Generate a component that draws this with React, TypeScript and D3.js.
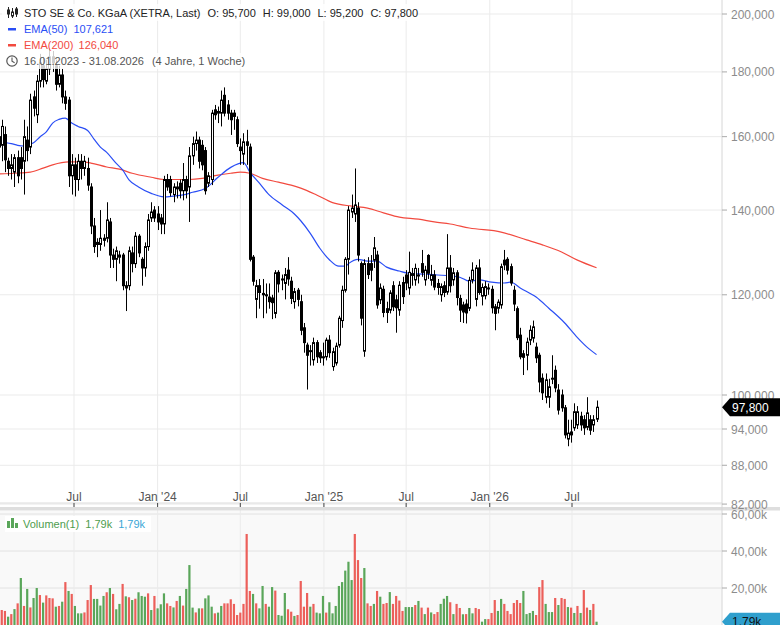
import * as d3 from 'd3';

// weekly candles, 16.01.2023 .. 24.08.2026 (EUR)
const open = [
  160, 157.5, 160.6, 153, 151, 150, 154, 154, 153, 159, 157, 172, 166.5, 177, 182, 177, 181, 185, 182, 176,
  179, 172, 171, 149, 152, 148, 153, 151, 151, 146, 136, 131.5, 131.5, 133, 133, 137, 129, 128, 128.5, 129,
  122, 122, 129.5, 127, 133.5, 128, 126, 131, 138, 140, 139, 138, 136.5, 148, 148, 144, 146, 147, 145, 148,
  146, 154.5, 158, 159, 157.5, 156, 147, 148, 168, 167, 167, 172.5, 169.5, 167, 167, 165, 157, 155, 158.5, 157,
  128.5, 119, 122, 120, 120, 119.5, 119.3, 116, 125, 123.5, 122.5, 125.5, 123, 118.5, 121, 118.5, 113, 109.5, 108.4, 106.6,
  110, 108, 107.2, 107.2, 110.5, 105.3, 106, 109.5, 114.5, 121, 128, 139.5, 139, 140.5, 127, 108.3, 127, 127, 127.8, 129,
  118.9, 121.2, 117, 116.7, 122, 118.9, 116.7, 122.7, 124.4, 121.5, 124.3, 123.3, 124.4, 127, 123.3, 128.9, 123.2, 124.4, 122.5, 120,
  122, 120.6, 126, 123.3, 124.9, 119.2, 117.8, 118, 117.1, 123.3, 119, 126, 119.7, 119.8, 121.5, 121.2, 117.4, 117.1, 117.8, 127.8,
  128, 126.3, 121, 117, 111.5, 107.8, 107.5, 110.5, 110.9, 109.1, 107.5, 103.1, 99.6, 99.6, 103, 104.6, 100.9, 100, 97.7, 92.3,
  93.5, 94.2, 94.7, 96.2, 95.6, 94.3, 95.6, 94.7, 95.7,
];
const high = [
  164, 165, 163, 154, 155, 155, 156, 157, 165, 163, 173, 174, 179, 186, 185, 184, 188, 187, 184, 182,
  181, 174, 172, 155, 154, 155, 155, 154.5, 154, 147, 138, 133, 140, 134, 142, 138, 130.5, 131, 130, 129.5,
  123, 131, 131, 134.5, 134, 128.5, 132, 139, 142, 141, 141, 139, 149, 149.5, 149, 147, 147.5, 148, 152.5, 149,
  157, 160, 161.5, 160, 159, 157, 150, 168, 169.5, 169, 174, 175, 171, 168, 168, 166, 159.5, 161, 162, 158,
  129, 123.3, 123.5, 123.5, 122.5, 122.5, 120, 125.5, 125.5, 124.5, 126, 128.5, 124, 121.5, 121.5, 120, 114, 110, 109.5, 111,
  110.5, 108.5, 110, 111, 111.5, 109, 110, 115.5, 122, 128.5, 141, 144, 151, 142, 127.5, 128, 128.5, 129, 133.3, 130,
  122.5, 122, 118.5, 121, 123, 120, 123, 124, 125.5, 129.8, 126, 127, 126, 130.2, 126.5, 129.2, 126.7, 125.5, 123.5, 122.5,
  123, 134, 129, 126, 125.5, 120, 118.5, 119, 124, 127.3, 126.7, 128, 122.5, 123, 122.5, 122, 118, 119, 127, 130.2,
  128.5, 127, 122, 117.5, 113, 108.5, 111, 113.5, 114.5, 110, 108, 104, 104, 103, 107.5, 105.5, 102, 101, 98.2, 95.6,
  95.6, 98.5, 98, 97, 96.4, 99.6, 96.4, 96.4, 99,
];
const low = [
  152, 153, 150, 149, 148, 146, 147, 148, 144, 153, 155, 166, 164, 175, 175, 176, 179, 180, 174, 175,
  170, 168, 146, 144, 143.5, 145, 148, 149, 145, 134, 129.5, 128.5, 130, 131, 132, 126, 126, 123, 127, 121,
  116.5, 121, 125, 126, 128.5, 122, 124, 130, 137, 137, 135, 134, 134, 145, 143.5, 142, 143, 143, 142.5, 143,
  137, 152, 156, 151, 150.5, 144, 146, 146.5, 165, 164, 163, 166, 165, 160.5, 162, 157, 152, 152, 152, 127.5,
  122, 115, 117, 115, 116, 117, 114.8, 115, 120.5, 121, 119, 122, 118, 117, 117.5, 111.5, 108, 101, 105.5, 105.5,
  106, 106, 105.5, 106.5, 107, 104.5, 105.5, 109, 113, 120.5, 124.5, 138, 137, 127.5, 113.5, 107.2, 123.5, 123, 126, 117,
  118, 115.2, 114, 116, 116.5, 112, 115.5, 118, 121, 120, 122, 122, 122.5, 124, 122, 123.5, 122, 121, 120, 118.5,
  119.5, 120, 120.5, 122, 117.7, 114.2, 114, 113.9, 116.5, 122.5, 117.5, 120, 117.7, 119, 120, 116, 112.5, 116, 117, 125.5,
  124.5, 122, 116.5, 110.5, 106.7, 103.7, 104.6, 109.5, 110, 106, 100.5, 99.1, 98.5, 97.7, 102, 100.5, 96.5, 97, 92.4, 91.1,
  91.7, 93.7, 94, 93.7, 93, 93.8, 93, 93.5, 95.2,
];
const close = [
  157, 163, 153.4, 151, 152, 154, 149, 151, 160, 156, 171, 168.5, 177, 183, 177.5, 181, 185, 183, 176, 179,
  172, 170, 149, 152, 148, 153, 151, 153, 146.5, 136, 131, 132, 133, 132.5, 137.5, 129, 128, 130, 129, 122,
  121.5, 130, 127, 133.5, 129.5, 126, 131, 137.5, 139.5, 138, 137, 136.5, 148, 146, 144.5, 146, 145.5, 145, 148, 145,
  154.5, 158, 159, 153, 152, 145, 149, 167, 166.5, 167.5, 171, 167, 167, 165, 166, 158, 156, 158.5, 157.5, 128,
  123, 122, 120.5, 120.3, 119.8, 118.5, 118.3, 124.9, 122.4, 123.4, 124.5, 123.5, 119.2, 120.7, 119, 112.5, 110, 107.5, 108.2, 110,
  107.2, 107, 107, 110.5, 108, 108.2, 109.3, 115, 121, 128, 140, 140.5, 141.3, 129, 115, 127, 124.5, 125.5, 130.7, 117.8,
  121.5, 116.2, 116.2, 120.4, 117.4, 117.2, 122.1, 119.6, 122.6, 125, 124.7, 125.9, 124.2, 125, 125.5, 124.8, 124.4, 121.7, 121.6, 121.8,
  120.5, 126, 122, 124.9, 119.4, 116.7, 116.3, 116.1, 123.2, 125.5, 126, 120.5, 121.6, 121.8, 121.3, 117.2, 116, 118.4, 126.3, 126.7,
  125.5, 122.6, 118, 111, 107.2, 107.1, 110.1, 112.5, 113.2, 107, 102.4, 100.4, 102.8, 101.5, 103.1, 101.3, 97.3, 97.7, 93, 93.3,
  93, 97, 97, 94.7, 94.2, 96.8, 93.8, 95.6, 97.8,
];

// weekly volume in thousands, g = up bar, r = down bar
const volume = [
  6.7, 8.1, 7.6, 4.5, 5.9, 8.6, 11.7, 25.4, 10.3, 19.5, 9.5, 14.6, 20, 16.2, 12.1, 16, 14.6, 14.4, 9.9, 10.3,
  12.6, 23.2, 18.4, 16.8, 10.3, 6.3, 6.3, 6.8, 13.5, 21.6, 14.1, 14.1, 10.5, 15.7, 17.7, 20, 16.8, 8.5, 11.4, 22.2,
  15.5, 15, 13.5, 14.2, 17.7, 15.7, 15.3, 17.1, 8.1, 15.7, 9, 11.2, 17.1, 11.7, 10.3, 9.5, 13, 15.7, 10.5, 19.5,
  32.4, 9.4, 6.8, 9, 9, 14.4, 16, 9.9, 6.3, 6.7, 10.3, 11.7, 11.7, 13.9, 11.4, 5.4, 6.7, 11.4, 49.2, 18.4,
  16.8, 11.7, 9, 21.1, 11.4, 9.9, 20.5, 18.6, 5.4, 5, 17.3, 8.5, 7.2, 4.9, 5.4, 23.8, 9.9, 17.3, 9.9, 11.4,
  6.7, 6.3, 15.7, 6.7, 12.3, 6.3, 10.3, 21.1, 23.2, 29.4, 34.2, 24.3, 49.2, 35.1, 25.4, 30.8, 11.7, 10.3, 11.4, 18.4,
  15.3, 11.4, 11.9, 17.8, 11.4, 15.7, 13.2, 7.6, 9.7, 9.7, 9.7, 10.8, 13, 9.4, 5.9, 9.4, 6.8, 5.9, 7, 11.4,
  14.2, 15.7, 12.3, 5.9, 11.4, 9.2, 5.8, 5.9, 9.2, 6.3, 9.2, 8.6, 1.8, 3.2, 3.2, 6.5, 13.5, 7.6, 14.1, 11.4,
  7.6, 5.9, 11.9, 13.5, 11.9, 18.4, 5.9, 6.5, 7.6, 5.4, 20.5, 24.3, 11.4, 7, 7, 14.6, 10.8, 14.6, 14.1, 9.7,
  9.4, 6.5, 10.3, 6.5, 18.9, 9.4, 8.1, 11.4, 1.79,
];
const volumeSide =
  'grrgrgrgrg' + 'rggrgrrrgr' + 'grgrgggrrr' + 'ggggrgrggr' + 'grgrgggrgr' + 'gggrrgrgrg' +
  'ggrgrgggrg' + 'grrrrrrrrr' + 'grggrggrgg' + 'grrgrrrrgr' + 'gggrgggggg' + 'ggrrrgrrgr' +
  'grrgrrrrgg' + 'grgrgrgrrg' + 'ggrgrrgrgg' + 'rrggrrrggr' + 'rrrrrggggr' + 'rrgggrgrrg' + 'rgrgrrgrg';

// EMA lines: [week index, value]
const ema50 = [
  [0, 158.4], [4, 158.0], [6, 157.5], [8, 157.3], [11, 158.2], [13, 159.9], [15, 161.4], [17, 164.0], [19, 165.1],
  [21, 165.5], [23, 164.0], [25, 163.0], [28, 161.8], [30, 159.3], [32, 157.0], [34, 155.5], [37, 152.4], [39, 150.6],
  [41, 147.9], [44, 146.0], [48, 144.3], [52, 143.4], [55, 143.6], [58, 143.9], [61, 144.6], [65, 145.6], [69, 148.6],
  [73, 151.3], [77, 152.6], [79, 150.0], [82, 147.0], [85, 144.0], [89, 141.4], [93, 139.0], [95, 137.3], [98, 134.2],
  [101, 130.6], [104, 127.9], [107, 126.4], [109, 126.4], [110, 127.0], [113, 128.0], [116, 127.6], [119, 127.6],
  [122, 126.2], [126, 125.3], [129, 124.8], [134, 124.6], [138, 124.4], [142, 124.2], [145, 123.9], [148, 123.0],
  [151, 123.3], [155, 122.8], [159, 122.6], [161, 122.8], [164, 121.5], [169, 119.5], [173, 117.1], [178, 114.0],
  [182, 111.0], [185, 109.1], [188, 107.621],
];
const ema200 = [
  [0, 149.5], [5, 149.7], [10, 150.0], [14, 151.1], [17, 152.0], [22, 152.8], [26, 152.8], [29, 152.5], [34, 151.4],
  [38, 150.8], [42, 149.7], [48, 148.6], [52, 148.0], [60, 148.0], [64, 148.3], [69, 149.2], [73, 149.7], [76, 150.0],
  [79, 149.7], [83, 148.3], [88, 147.3], [92, 146.5], [95, 145.7], [100, 143.9], [105, 141.9], [111, 141.0], [116, 140.5],
  [121, 139.3], [126, 138.2], [132, 137.7], [137, 137.0], [142, 136.5], [148, 135.5], [158, 134.5], [166, 132.6],
  [171, 131.4], [177, 129.7], [182, 127.8], [188, 126.04],
];

const priceTicks = [82, 88, 94, 100, 120, 140, 160, 180, 200];
const volumeTicks = [20, 40, 60];
const dateTicks = [
  new Date(2023, 6, 1), new Date(2024, 0, 1), new Date(2024, 6, 1), new Date(2025, 0, 1),
  new Date(2025, 6, 1), new Date(2026, 0, 1), new Date(2026, 6, 1),
];

const W = 780;
const H = 625;
const plotRight = 722;
const mainBottom = 503;
const volTop = 511;

const de = d3.formatLocale({ decimal: ',', thousands: '.', grouping: [3], currency: ['', '€'] });
const fmtPrice = de.format('.3f');
const fmtVol = de.format('.2f');

const weeks = d3.timeMonday.range(new Date(2023, 0, 16), new Date(2026, 7, 25));

const x = d3.scaleTime().domain([new Date(2023, 6, 1), new Date(2026, 6, 1)]).range([74, 572]);
const y = d3.scaleLog().domain([100, 200]).range([395, 14]);
const yv = d3.scaleLinear().domain([0, 60]).range([625, 514]);

const BLUE = '#2a4ef5';
const RED = '#f24a3f';
const GREEN_V = '#5aa65a';
const RED_V = '#ec5f5a';
const FONT = 'Liberation Sans, Arial, sans-serif';

function dateLabel(d: Date) {
  return d.getMonth() === 0 ? `Jan '${String(d.getFullYear()).slice(2)}` : 'Jul';
}

export default function App() {
  const line = d3
    .line<number[]>()
    .x((d) => x(weeks[d[0]]))
    .y((d) => y(d[1]))
    .curve(d3.curveMonotoneX);

  const last = close.length - 1;
  const tagY = y(close[last]);
  const vTagY = yv(volume[last]);

  return (
    <svg
      width={W}
      height={H}
      style={{ position: 'absolute', left: 0, top: 0, background: '#fff' }}
      fontFamily={FONT}
    >
      <defs>
        <clipPath id="mainClip">
          <rect x={0} y={0} width={plotRight} height={mainBottom} />
        </clipPath>
        <clipPath id="volClip">
          <rect x={0} y={volTop} width={plotRight} height={H - volTop} />
        </clipPath>
      </defs>

      {/* volume panel background */}
      <rect x={0} y={volTop} width={plotRight} height={H - volTop} fill="#f9f9f9" />

      {/* grid */}
      {priceTicks.map((t) => (
        <line key={'pg' + t} x1={0} x2={plotRight} y1={y(t)} y2={y(t)} stroke="#ebebeb" />
      ))}
      {volumeTicks.map((t) => (
        <line key={'vg' + t} x1={0} x2={plotRight} y1={yv(t)} y2={yv(t)} stroke="#e2e2e2" />
      ))}
      {dateTicks.map((d, i) => (
        <line key={'dg' + i} x1={x(d)} x2={x(d)} y1={0} y2={H} stroke="#ebebeb" />
      ))}

      {/* x axis */}
      <line x1={0} x2={plotRight} y1={mainBottom} y2={mainBottom} stroke="#dcdcdc" />
      {dateTicks.map((d, i) => (
        <g key={'dt' + i}>
          <line x1={x(d)} x2={x(d)} y1={mainBottom} y2={mainBottom + 4} stroke="#444" />
          <text x={x(d)} y={501} textAnchor="middle" fontSize={12} fill="#555">
            {dateLabel(d)}
          </text>
        </g>
      ))}
      <rect x={0} y={507} width={W} height={3.5} fill="#dedede" />

      {/* right axis */}
      <line x1={plotRight} x2={plotRight} y1={0} y2={H} stroke="#d6d6d6" />
      {priceTicks.map((t) => (
        <g key={'pt' + t}>
          <line x1={plotRight} x2={plotRight + 5} y1={y(t)} y2={y(t)} stroke="#aaa" />
          <text x={731} y={y(t) + 4.5} fontSize={12} fill="#8c8c8c">
            {fmtPrice(t)}
          </text>
        </g>
      ))}
      {volumeTicks.map((t) => (
        <g key={'vt' + t}>
          <line x1={plotRight} x2={plotRight + 5} y1={yv(t)} y2={yv(t)} stroke="#aaa" />
          <text x={731} y={yv(t) + 4.5} fontSize={12} fill="#8c8c8c">
            {fmtVol(t) + 'k'}
          </text>
        </g>
      ))}

      {/* volume bars */}
      <g clipPath="url(#volClip)">
        {volume.map((v, i) => (
          <rect
            key={'v' + i}
            x={x(weeks[i]) - 1.1}
            y={yv(v)}
            width={2.2}
            height={yv(0) - yv(v)}
            fill={volumeSide[i] === 'g' ? GREEN_V : RED_V}
          />
        ))}
      </g>

      {/* candles + EMAs */}
      <g clipPath="url(#mainClip)">
        <path d={line(ema200 as number[][]) || ''} fill="none" stroke={RED} strokeWidth={1.2} />
        <path d={line(ema50 as number[][]) || ''} fill="none" stroke={BLUE} strokeWidth={1.2} />
        {close.map((c, i) => {
          const cx = Math.round(x(weeks[i])) + 0.5;
          const o = open[i];
          const up = c >= o;
          const top = y(Math.max(o, c));
          const bot = y(Math.min(o, c));
          return (
            <g key={'c' + i}>
              <line x1={cx} x2={cx} y1={y(high[i])} y2={y(low[i])} stroke="#000" strokeWidth={1} />
              <rect
                x={cx - 1}
                y={top}
                width={2}
                height={Math.max(1, bot - top)}
                fill={up ? '#fff' : '#000'}
                stroke="#000"
                strokeWidth={1}
              />
            </g>
          );
        })}
      </g>

      {/* last price tag */}
      <path
        d={`M${plotRight},${tagY} L${plotRight + 8},${tagY - 9} L${W},${tagY - 9} L${W},${tagY + 9} L${plotRight + 8},${tagY + 9} Z`}
        fill="#000"
      />
      <text x={732} y={tagY + 4.5} fontSize={12} fill="#fff">
        {fmtPrice(close[last])}
      </text>

      {/* last volume tag */}
      <path
        d={`M${plotRight},${vTagY} L${plotRight + 8},${vTagY - 9} L${W},${vTagY - 9} L${W},${vTagY + 9} L${plotRight + 8},${vTagY + 9} Z`}
        fill="#2f9fcd"
      />
      <text x={732} y={vTagY + 4.5} fontSize={12} fill="#111">
        {fmtVol(volume[last]) + 'k'}
      </text>

      {/* legend */}
      <g>
        <rect x={2} y={4} width={414} height={17} fill="#fff" opacity={0.8} />
        <rect x={2} y={21} width={112} height={16} fill="#fff" opacity={0.8} />
        <rect x={2} y={37} width={118} height={16} fill="#fff" opacity={0.8} />
        <rect x={2} y={53} width={246} height={16} fill="#fff" opacity={0.8} />
        {/* candle icon */}
        <g stroke="#222" strokeWidth={1}>
          <line x1={8.5} x2={8.5} y1={7} y2={18} />
          <rect x={7.5} y={10} width={2} height={4} fill="#222" />
          <line x1={12.5} x2={12.5} y1={8} y2={18} />
          <rect x={11.5} y={12} width={2} height={4} fill="#fff" />
          <line x1={16.5} x2={16.5} y1={7} y2={17} />
          <rect x={15.5} y={9} width={2} height={5} fill="#222" />
        </g>
        <text x={24} y={16.5} fontSize={11} fill="#222">
          STO SE &amp; Co. KGaA (XETRA, Last)
          <tspan dx={7}>O: 95,700</tspan>
          <tspan dx={7}>H: 99,000</tspan>
          <tspan dx={7}>L: 95,200</tspan>
          <tspan dx={7}>C: 97,800</tspan>
        </text>
        <rect x={8} y={28} width={8} height={2.5} fill={BLUE} />
        <text x={24} y={33} fontSize={11} fill={BLUE}>
          EMA(50)
          <tspan dx={6}>107,621</tspan>
        </text>
        <rect x={8} y={44} width={8} height={2.5} fill={RED} />
        <text x={24} y={49} fontSize={11} fill={RED}>
          EMA(200)
          <tspan dx={5}>126,040</tspan>
        </text>
        <circle cx={12} cy={61} r={5.2} fill="none" stroke="#555" strokeWidth={1.2} />
        <path d="M12,57.5 L12,61.3 L14.6,62.8" fill="none" stroke="#555" strokeWidth={1.1} />
        <text x={24} y={65} fontSize={11} fill="#555">
          16.01.2023 - 31.08.2026
          <tspan dx={8}>(4 Jahre, 1 Woche)</tspan>
        </text>

        {/* volume legend */}
        <rect x={5} y={516} width={146} height={16} fill="#fff" />
        <rect x={7} y={521} width={3} height={7} fill={GREEN_V} />
        <rect x={11} y={518} width={3} height={10} fill={GREEN_V} />
        <rect x={15} y={523} width={3} height={5} fill={GREEN_V} />
        <text x={23} y={527.5} fontSize={11} fill="#4e9d4e">
          Volumen(1)
          <tspan dx={6}>1,79k</tspan>
          <tspan dx={6} fill="#3aa6d6">1,79k</tspan>
        </text>
      </g>
    </svg>
  );
}
